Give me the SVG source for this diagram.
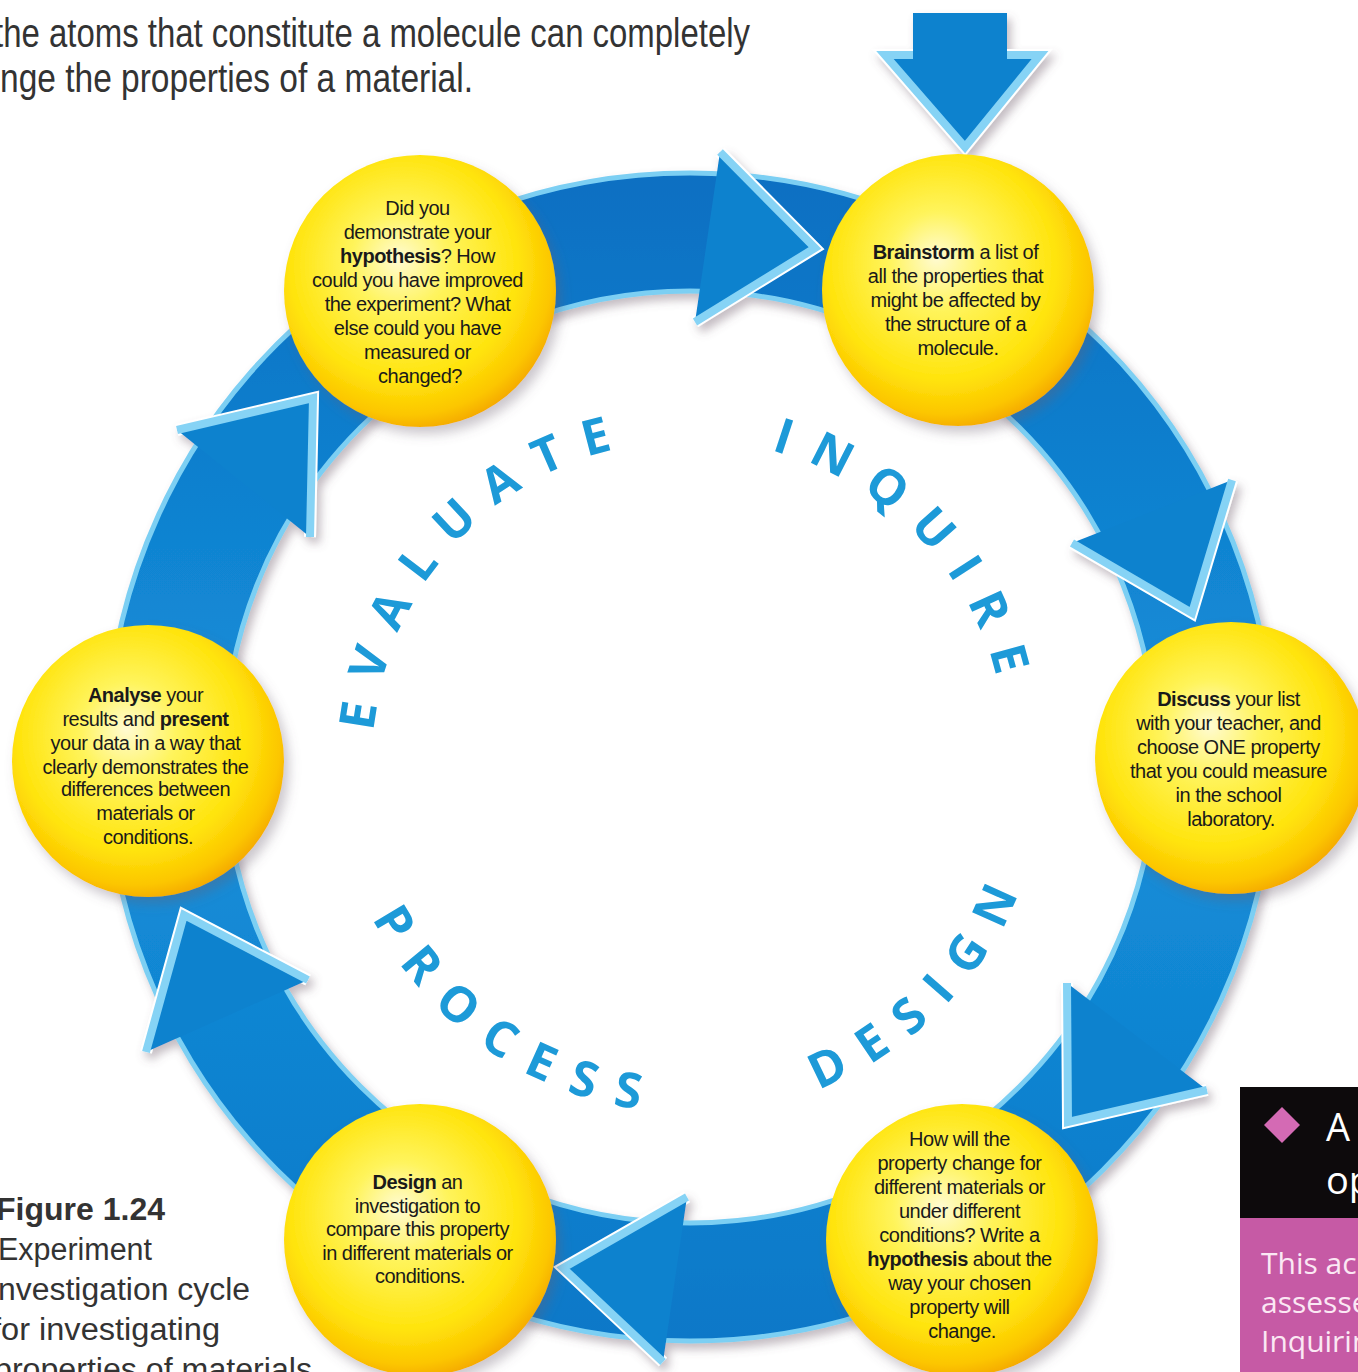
<svg xmlns="http://www.w3.org/2000/svg" width="1358" height="1372" viewBox="0 0 1358 1372">
<defs>
  <radialGradient id="yel" cx="0.45" cy="0.42" r="0.6" fx="0.42" fy="0.38">
    <stop offset="0" stop-color="#fffbd2"/>
    <stop offset="0.3" stop-color="#fff45c"/>
    <stop offset="0.7" stop-color="#ffe40c"/>
    <stop offset="0.9" stop-color="#fcc600"/>
    <stop offset="1" stop-color="#f4a800"/>
  </radialGradient>
  <linearGradient id="band" x1="0" y1="0" x2="0" y2="1">
    <stop offset="0" stop-color="#0a6fc2"/>
    <stop offset="0.5" stop-color="#1590da"/>
    <stop offset="1" stop-color="#0b78c8"/>
  </linearGradient>
  <filter id="sh" x="-20%" y="-20%" width="140%" height="140%">
    <feDropShadow dx="4" dy="6" stdDeviation="5" flood-color="#6b5a66" flood-opacity="0.4"/>
  </filter>
  <filter id="csh" x="-20%" y="-20%" width="140%" height="140%">
    <feDropShadow dx="5" dy="7" stdDeviation="6" flood-color="#6b6070" flood-opacity="0.35"/>
  </filter>
  <path id="arcTop" d="M 690 1074 A 317 317 0 1 1 690 440 A 317 317 0 1 1 690 1074"/>
  <path id="arcBot" d="M 690 401 A 356 356 0 1 0 690 1113 A 356 356 0 1 0 690 401"/>
</defs>
<style>
  .ct { font-family: "Liberation Sans", Arial, sans-serif; font-size: 20px; fill: #1a1a1a; text-anchor: middle; letter-spacing: -0.5px; }
  .b { font-weight: bold; }
  .big { font-family: "Open Sans", "Liberation Sans", sans-serif; font-weight: 700; font-size: 49px; fill: #1d9ad8; letter-spacing: 21px; }
  .node { fill: url(#yel); filter: url(#csh); }
  .ahFill { fill: #0f82ce; }
  .ahWhite { fill: none; stroke: #ffffff; stroke-width: 12; stroke-linejoin: miter; }
  .ahLight { fill: none; stroke: #86d3f5; stroke-width: 8; stroke-linejoin: miter; }
  .body { font-family: "Liberation Sans", Arial, sans-serif; fill: #333333; }
</style>

<rect x="0" y="0" width="1358" height="1372" fill="#ffffff"/>

<!-- intro text -->
<g id="intro" class="body" font-size="40">
  <text x="-6" y="47" textLength="756" lengthAdjust="spacingAndGlyphs">the atoms that constitute a molecule can completely</text>
  <text x="0" y="92" textLength="473" lengthAdjust="spacingAndGlyphs">nge the properties of a material.</text>
</g>

<!-- connectors: ring and arrowheads -->
<g id="connectors" filter="url(#sh)">
  <path d="M 1274 757 A 584 584 0 1 1 106 757 A 584 584 0 1 1 1274 757 Z M 1156 757 A 466 466 0 1 0 224 757 A 466 466 0 1 0 1156 757 Z" fill="url(#band)" fill-rule="evenodd" stroke="#7ccff3" stroke-width="5"/>
  <g id="ah1">
    <polyline class="ahWhite" points="720,152 815,248 695,322"/>
    <polygon class="ahFill" points="720,152 815,248 695,322"/>
    <polyline class="ahLight" points="720,152 815,248 695,322"/>
  </g>
  <g id="ah2">
    <polyline class="ahWhite" points="1232,480 1192,613 1072,543"/>
    <polygon class="ahFill" points="1232,480 1192,613 1072,543"/>
    <polyline class="ahLight" points="1232,480 1192,613 1072,543"/>
  </g>
  <g id="ah3">
    <polyline class="ahWhite" points="1207,1090 1068,1122 1067,983"/>
    <polygon class="ahFill" points="1207,1090 1068,1122 1067,983"/>
    <polyline class="ahLight" points="1207,1090 1068,1122 1067,983"/>
  </g>
  <g id="ah4">
    <polyline class="ahWhite" points="687,1197 563,1268 663,1362"/>
    <polygon class="ahFill" points="687,1197 563,1268 663,1362"/>
    <polyline class="ahLight" points="687,1197 563,1268 663,1362"/>
  </g>
  <g id="ah5">
    <polyline class="ahWhite" points="146,1052 184,915 308,980"/>
    <polygon class="ahFill" points="146,1052 184,915 308,980"/>
    <polyline class="ahLight" points="146,1052 184,915 308,980"/>
  </g>
  <g id="ah6">
    <polyline class="ahWhite" points="177,430 313,398 310,537"/>
    <polygon class="ahFill" points="177,430 313,398 310,537"/>
    <polyline class="ahLight" points="177,430 313,398 310,537"/>
  </g>
  <g id="entry-arrow">
    <polyline class="ahWhite" points="913,55 885,55 965,147 1040,55 1007,55"/>
    <path class="ahFill" d="M 913 13 H 1007 V 55 H 1040 L 965 147 L 885 55 H 913 Z"/>
    <polyline class="ahLight" points="913,55 885,55 965,147 1040,55 1007,55"/>
  </g>
</g>

<!-- stage words -->
<g id="stage-words" class="big">
  <text><textPath href="#arcTop" startOffset="731" text-anchor="middle">EVALUATE</textPath></text>
  <text><textPath href="#arcTop" startOffset="1255" text-anchor="middle">INQUIRE</textPath></text>
  <text><textPath href="#arcBot" startOffset="1403" text-anchor="middle">DESIGN</textPath></text>
  <text><textPath href="#arcBot" startOffset="907" text-anchor="middle">PROCESS</textPath></text>
</g>

<!-- nodes -->
<g id="node-brainstorm">
  <circle class="node" cx="958" cy="290" r="136"/>
  <text class="ct">
    <tspan x="958" y="259"><tspan class="b">Brainstorm</tspan> a list of</tspan>
    <tspan x="958" y="283">all the properties that</tspan>
    <tspan x="958" y="307">might be affected by</tspan>
    <tspan x="958" y="331">the structure of a</tspan>
    <tspan x="958" y="355">molecule.</tspan>
  </text>
</g>
<g id="node-discuss">
  <circle class="node" cx="1231" cy="758" r="136"/>
  <text class="ct">
    <tspan x="1231" y="706"><tspan class="b">Discuss</tspan> your list</tspan>
    <tspan x="1231" y="730">with your teacher, and</tspan>
    <tspan x="1231" y="754">choose ONE property</tspan>
    <tspan x="1231" y="778">that you could measure</tspan>
    <tspan x="1231" y="802">in the school</tspan>
    <tspan x="1231" y="826">laboratory.</tspan>
  </text>
</g>
<g id="node-hypothesis">
  <circle class="node" cx="962" cy="1240" r="136"/>
  <text class="ct">
    <tspan x="962" y="1146">How will the</tspan>
    <tspan x="962" y="1170">property change for</tspan>
    <tspan x="962" y="1194">different materials or</tspan>
    <tspan x="962" y="1218">under different</tspan>
    <tspan x="962" y="1242">conditions? Write a</tspan>
    <tspan x="962" y="1266"><tspan class="b">hypothesis</tspan> about the</tspan>
    <tspan x="962" y="1290">way your chosen</tspan>
    <tspan x="962" y="1314">property will</tspan>
    <tspan x="962" y="1338">change.</tspan>
  </text>
</g>
<g id="node-design">
  <circle class="node" cx="420" cy="1240" r="136"/>
  <text class="ct">
    <tspan x="420" y="1189"><tspan class="b">Design</tspan> an</tspan>
    <tspan x="420" y="1212.5">investigation to</tspan>
    <tspan x="420" y="1236">compare this property</tspan>
    <tspan x="420" y="1259.5">in different materials or</tspan>
    <tspan x="420" y="1283">conditions.</tspan>
  </text>
</g>
<g id="node-analyse">
  <circle class="node" cx="148" cy="761" r="136"/>
  <text class="ct">
    <tspan x="148" y="702"><tspan class="b">Analyse</tspan> your</tspan>
    <tspan x="148" y="726">results and <tspan class="b">present</tspan></tspan>
    <tspan x="148" y="750">your data in a way that</tspan>
    <tspan x="148" y="774">clearly demonstrates the</tspan>
    <tspan x="148" y="796">differences between</tspan>
    <tspan x="148" y="820">materials or</tspan>
    <tspan x="148" y="844">conditions.</tspan>
  </text>
</g>
<g id="node-evaluate">
  <circle class="node" cx="420" cy="291" r="136"/>
  <text class="ct">
    <tspan x="420" y="215">Did you</tspan>
    <tspan x="420" y="239">demonstrate your</tspan>
    <tspan x="420" y="263"><tspan class="b">hypothesis</tspan>? How</tspan>
    <tspan x="420" y="287">could you have improved</tspan>
    <tspan x="420" y="311">the experiment? What</tspan>
    <tspan x="420" y="335">else could you have</tspan>
    <tspan x="420" y="359">measured or</tspan>
    <tspan x="420" y="383">changed?</tspan>
  </text>
</g>

<!-- caption -->
<g id="caption" class="body" font-size="31">
  <text x="-4" y="1220" font-weight="bold" textLength="169" lengthAdjust="spacingAndGlyphs">Figure 1.24</text>
  <text x="-2" y="1260" textLength="154" lengthAdjust="spacingAndGlyphs">Experiment</text>
  <text x="-9" y="1300" textLength="259" lengthAdjust="spacingAndGlyphs">investigation cycle</text>
  <text x="-8" y="1340" textLength="228" lengthAdjust="spacingAndGlyphs">for investigating</text>
  <text x="-6" y="1380" textLength="318" lengthAdjust="spacingAndGlyphs">properties of materials</text>
</g>

<!-- side box -->
<g id="side-box">
  <rect x="1240" y="1087" width="118" height="131" fill="#0d0a0c"/>
  <rect x="1240" y="1218" width="118" height="154" fill="#c65aa5"/>
  <polygon points="1282,1107 1300,1125 1282,1143 1264,1125" fill="#d46ab4"/>
  <text x="1326" y="1141" font-family="'Open Sans', 'Liberation Sans', sans-serif" font-size="38" fill="#ffffff">A</text>
  <text x="1326" y="1194" font-family="'Open Sans', 'Liberation Sans', sans-serif" font-size="38" fill="#ffffff">op</text>
  <g font-family="'Open Sans', 'Liberation Sans', sans-serif" font-size="30" fill="#fbe8f4">
    <text x="1261" y="1274">This ac</text>
    <text x="1261" y="1313">assesse</text>
    <text x="1261" y="1352">Inquirin</text>
  </g>
</g>
</svg>
